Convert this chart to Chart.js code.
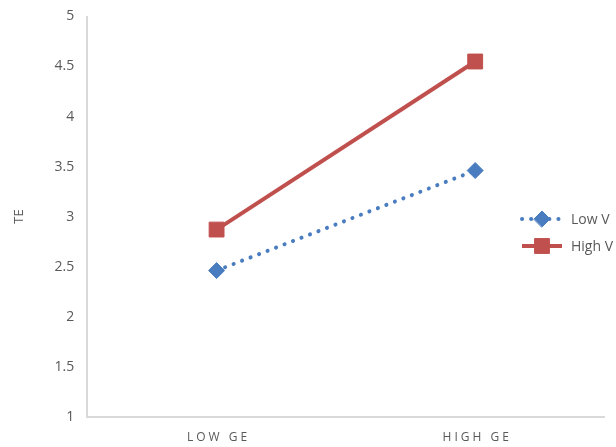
<!DOCTYPE html>
<html>
<head>
<meta charset="utf-8">
<script src="https://cdn.jsdelivr.net/npm/chart.js@4/dist/chart.umd.min.js"></script>
<style>
  html, body { margin: 0; padding: 0; background: #fff; }
  #wrap { width: 616px; height: 447px; position: relative; overflow: hidden; }
</style>
</head>
<body>
<div id="wrap"><canvas id="c" width="616" height="447"></canvas></div>
<script>
// Interaction plot: TE by GE level for low and high V
const categories = ['LOW GE', 'HIGH GE'];
const lowV = [2.46, 3.46];
const highV = [2.87, 4.55];
const seriesNames = ['Low V', 'High V'];
const yTicks = [1, 1.5, 2, 2.5, 3, 3.5, 4, 4.5, 5];

const BLUE = '#4a7dc0';
const RED = '#c0504d';
const TEXT = '#595959';
const FONT = '"Open Sans", "Liberation Sans", sans-serif';

// Category labels with wide letter spacing, drawn at the x scale's own positions
const spacedCategoryLabels = {
  id: 'spacedCategoryLabels',
  afterDraw(chart) {
    const ctx = chart.ctx;
    const xs = chart.scales.x;
    ctx.save();
    ctx.font = '12px ' + FONT;
    ctx.fillStyle = TEXT;
    ctx.textAlign = 'center';
    ctx.textBaseline = 'middle';
    if ('letterSpacing' in ctx) ctx.letterSpacing = '3px';
    categories.forEach((lab, i) => {
      ctx.fillText(lab, xs.getPixelForValue(i) + 2, chart.chartArea.bottom + 21);
    });
    ctx.restore();
  }
};

// Legend placed on the right, overlapping the plot and clipped by the canvas edge
const sideLegend = {
  id: 'sideLegend',
  afterDraw(chart) {
    const ctx = chart.ctx;
    const x0 = 522, x1 = 562, tx = 571;
    const rows = [219, 246];
    chart.data.datasets.forEach((ds, i) => {
      const y = rows[i];
      ctx.save();
      ctx.strokeStyle = ds.borderColor;
      ctx.lineWidth = ds.borderWidth;
      ctx.lineCap = ds.borderCapStyle || 'butt';
      ctx.setLineDash(ds.borderDash || []);
      ctx.beginPath();
      ctx.moveTo(x0, y);
      ctx.lineTo(x1, y);
      ctx.stroke();
      ctx.setLineDash([]);
      ctx.fillStyle = ds.pointBackgroundColor;
      ctx.strokeStyle = ds.pointBorderColor;
      ctx.lineWidth = 1;
      Chart.helpers.drawPoint(ctx, {
        pointStyle: ds.pointStyle,
        radius: ds.pointRadius,
        rotation: 0,
        borderWidth: 1
      }, (x0 + x1) / 2, y);
      ctx.font = '14px ' + FONT;
      ctx.fillStyle = TEXT;
      ctx.textAlign = 'left';
      ctx.textBaseline = 'middle';
      ctx.fillText(seriesNames[i], tx, y + 1);
      ctx.restore();
    });
  }
};

new Chart(document.getElementById('c'), {
  type: 'line',
  data: {
    labels: categories,
    datasets: [
      {
        label: seriesNames[0],
        data: lowV,
        borderColor: BLUE,
        backgroundColor: BLUE,
        borderWidth: 4,
        borderDash: [0.1, 9],
        borderCapStyle: 'round',
        pointStyle: 'rectRot',
        pointRadius: 8,
        pointBackgroundColor: BLUE,
        pointBorderColor: BLUE,
        pointBorderWidth: 1,
        tension: 0
      },
      {
        label: seriesNames[1],
        data: highV,
        borderColor: RED,
        backgroundColor: RED,
        borderWidth: 4,
        pointStyle: 'rect',
        pointRadius: 10.5,
        pointBackgroundColor: RED,
        pointBorderColor: RED,
        pointBorderWidth: 1,
        tension: 0
      }
    ]
  },
  options: {
    responsive: false,
    animation: false,
    layout: { padding: { top: 1, right: 9, left: 11, bottom: 0 } },
    plugins: {
      legend: { display: false },
      tooltip: { enabled: false }
    },
    scales: {
      x: {
        offset: true,
        grid: { display: false, drawTicks: false },
        border: { display: true, color: '#d9d9d9', width: 2 },
        ticks: {
          color: 'rgba(0,0,0,0)',
          font: { size: 12, family: FONT },
          padding: 8
        }
      },
      y: {
        min: 1,
        max: 5,
        afterBuildTicks(scale) {
          scale.ticks = yTicks.map(v => ({ value: v }));
        },
        grid: { display: false, drawTicks: false },
        border: { display: true, color: '#d9d9d9', width: 2 },
        ticks: {
          color: TEXT,
          font: { size: 14, family: FONT, lineHeight: 0.5 },
          padding: 13,
          callback: v => String(v)
        },
        title: {
          display: true,
          text: 'TE',
          color: TEXT,
          font: { size: 13, family: FONT },
          padding: { top: 0, bottom: 15 }
        }
      }
    }
  },
  plugins: [spacedCategoryLabels, sideLegend]
});
</script>
</body>
</html>
